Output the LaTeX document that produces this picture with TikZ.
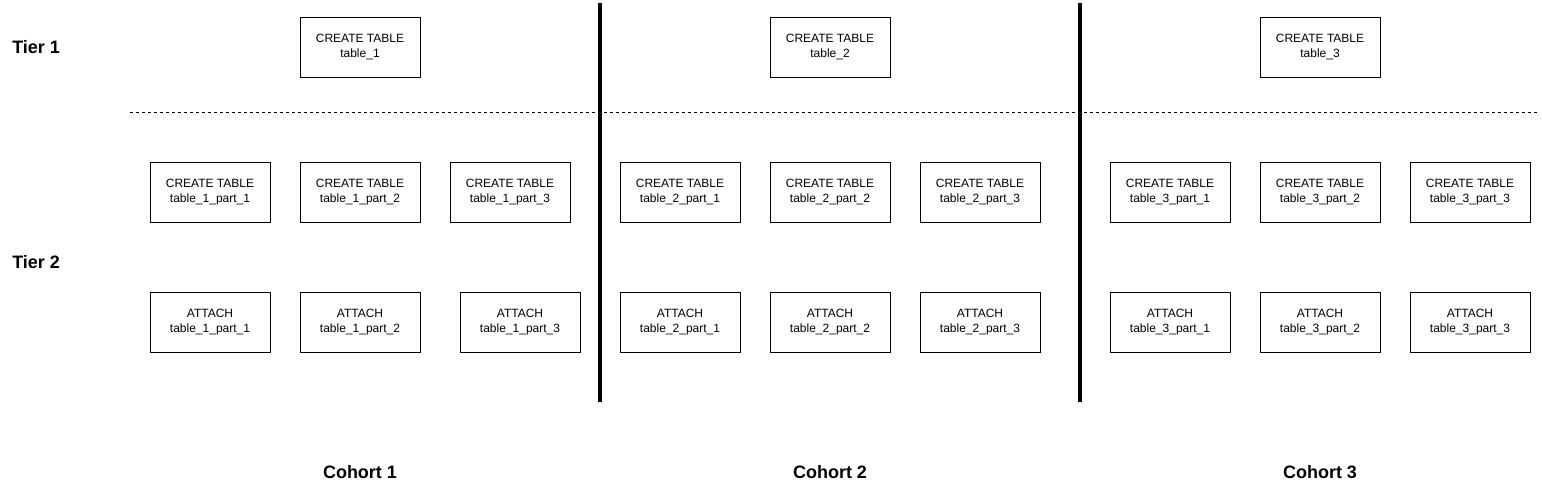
\documentclass[tikz,border=0pt]{standalone}
\usepackage{fontspec}
\setmainfont{Liberation Sans}
\usepackage{tikz}

\begin{document}
\begin{tikzpicture}[x=0.75pt,y=-0.75pt,
    tblbox/.style={draw, line width=0.75pt, minimum width=90pt, minimum height=45pt,
      inner sep=0pt, align=center, font=\fontsize{9}{11.25}\selectfont},
    sidelabel/.style={anchor=west, inner sep=0pt, font=\fontsize{13.5}{16}\selectfont\bfseries},
    cohortlabel/.style={font=\fontsize{13.5}{16}\selectfont\bfseries}]
    \useasboundingbox (0,0) rectangle (1542,493);
    % tier 1: one parent table per cohort
    \foreach \c/\x in {1/360,2/830,3/1320} {
        \node[tblbox] (ct\c) at (\x,47) {CREATE TABLE\\table\_\c};
        \node[cohortlabel] (coh\c) at (\x,472) {Cohort \c};
      }
    % tier 2: partitions, then attach
    \foreach \c/\p/\x/\xa in {1/1/210/210,1/2/360/360,1/3/510/520,
        2/1/680/680,2/2/830/830,2/3/980/980,
        3/1/1170/1170,3/2/1320/1320,3/3/1470/1470} {
        \node[tblbox] (cp\c-\p) at (\x,192) {CREATE TABLE\\table\_\c\_part\_\p};
        \node[tblbox] (at\c-\p) at (\xa,322) {ATTACH\\table\_\c\_part\_\p};
      }
    \node[sidelabel] (tier1) at (12,47) {Tier 1};
    \node[sidelabel] (tier2) at (12,262) {Tier 2};
    % separators
    \draw[line width=0.75pt, dash pattern=on 2.25pt off 2.25pt] (130,112) -- (1538,112);
    \foreach \x in {600,1080} {
        \draw[line width=3pt] (\x,3) -- (\x,402);
      }
  \end{tikzpicture}
\end{document}
